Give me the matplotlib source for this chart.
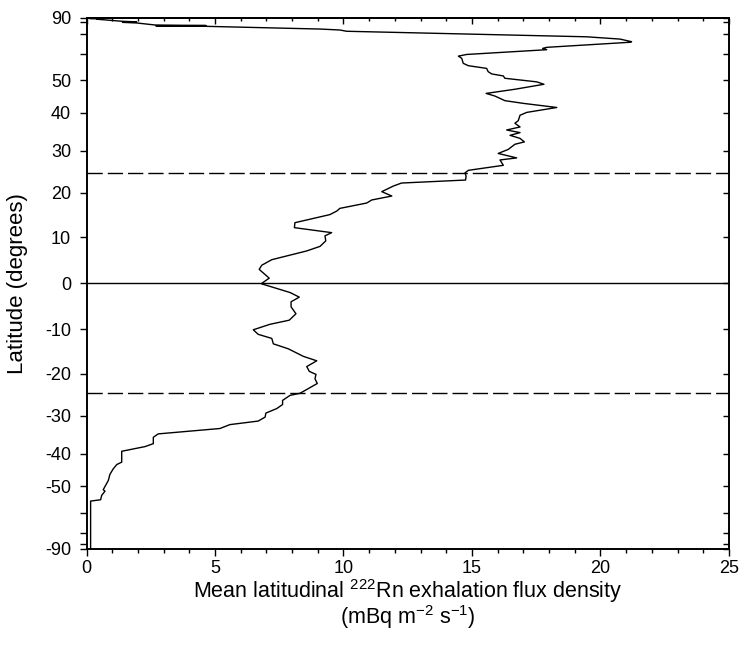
import numpy as np
import matplotlib
matplotlib.use("Agg")
import matplotlib.pyplot as plt

plt.rcParams['font.family'] = ['Liberation Sans', 'DejaVu Sans']
plt.rcParams['mathtext.default'] = 'regular'

# Mean latitudinal Rn-222 exhalation flux (mBq m-2 s-1), north to south
flux = [0.10, 0.40, 0.12, 0.45, 0.40, 1.37, 1.95, 1.40, 1.95, 2.67,
        4.65, 2.70, 4.65, 9.09, 9.86, 10.12, 19.46, 20.76, 21.21, 21.15,
        17.91, 17.75, 17.91, 14.79, 14.47, 14.60, 14.66, 14.86, 15.57, 15.63,
        15.77, 16.22, 16.28, 17.52, 17.80, 16.67, 15.55, 15.89, 16.28, 17.00,
        18.30, 17.13, 16.87, 16.80, 16.67, 16.87, 16.35, 16.87, 16.48, 16.87,
        17.04, 16.67, 16.41, 16.02, 16.74, 16.09, 16.22, 14.86, 14.73, 14.77,
        14.75, 12.26, 11.94, 11.49, 11.88, 11.10, 10.90, 9.86, 9.74, 9.47,
        8.11, 8.09, 9.54, 9.28, 9.31, 9.09, 8.57, 7.21, 6.82, 6.72,
        7.11, 6.80, 7.27, 7.92, 8.28, 7.96, 7.96, 8.15, 7.89, 7.14,
        6.49, 6.68, 7.21, 7.27, 7.85, 8.44, 8.96, 8.57, 8.67, 8.93,
        8.89, 8.98, 8.57, 8.31, 7.92, 7.63, 7.63, 7.40, 6.98, 6.95,
        6.68, 5.58, 5.19, 2.79, 2.60, 2.60, 2.28, 1.37, 1.37, 1.18,
        1.04, 0.91, 0.85, 0.72, 0.65, 0.72, 0.59, 0.55, 0.16, 0.16]

lat = [89.5, 87.0, 86.5, 85.5, 84.5, 81.0, 80.2, 79.6, 78.9, 76.8,
       76.3, 76.0, 75.6, 73.4, 72.7, 71.8, 68.3, 67.0, 65.6, 65.3,
       62.8, 62.3, 61.7, 59.6, 58.9, 58.0, 56.0, 55.1, 54.1, 52.9,
       52.1, 51.4, 50.6, 49.4, 48.6, 47.0, 45.7, 44.9, 43.5, 42.7,
       41.5, 40.1, 39.3, 37.8, 37.1, 36.1, 35.3, 34.6, 33.9, 33.1,
       32.2, 31.6, 30.3, 29.3, 28.2, 27.7, 26.4, 25.2, 24.6, 23.8,
       22.9, 22.2, 21.5, 20.2, 19.2, 18.3, 17.6, 16.4, 15.8, 15.0,
       13.2, 12.1, 11.0, 10.3, 9.2, 8.0, 7.0, 5.1, 3.9, 3.0,
       1.1, -0.1, -0.9, -2.0, -3.0, -4.0, -5.1, -6.6, -8.0, -8.9,
       -10.1, -11.1, -12.0, -13.2, -14.3, -16.0, -17.0, -18.3, -19.4, -20.1,
       -21.1, -22.2, -23.6, -24.5, -25.0, -26.2, -27.2, -28.2, -29.3, -30.3,
       -31.3, -32.2, -33.2, -34.6, -35.5, -37.2, -38.0, -39.3, -42.4, -43.1,
       -44.4, -46.1, -48.0, -50.0, -51.1, -51.6, -53.1, -54.7, -55.2, -90.0]

tropics = [24.5, -24.5]

lat_ticks = [-90, -80, -70, -60, -50, -40, -30, -20, -10, 0,
             10, 20, 30, 40, 50, 60, 70, 80, 90]
lat_labels = ['-90', '', '', '', '-50', '-40', '-30', '-20', '-10', '0',
              '10', '20', '30', '40', '50', '', '', '', '90']
flux_ticks = [0, 5, 10, 15, 20, 25]


# area-weighted latitude axis (sine of latitude)
def fwd(y):
    return np.sin(np.deg2rad(y))


def inv(s):
    return np.rad2deg(np.arcsin(np.clip(s, -1, 1)))


fig = plt.figure(figsize=(7.4, 6.52), dpi=100)
ax = fig.add_axes([0.1169, 0.1587, 0.8682, 0.8137])

ax.set_yscale('function', functions=(fwd, inv))
ax.plot(flux, lat, color='black', lw=1.0)
ax.axhline(0, color='black', lw=1.0)
for t in tropics:
    ax.axhline(t, color='black', lw=1.0, dashes=(11, 3.6))

ax.set_xlim(0, 25)
ax.set_ylim(-90, 90)
ax.set_xticks(flux_ticks)
ax.set_xticks(np.arange(0, 26, 1), minor=True)
ax.set_yticks(lat_ticks)
ax.set_yticklabels(lat_labels)
ax.tick_params(axis='both', which='major', length=5, width=1, labelsize=13)
ax.tick_params(axis='x', which='minor', length=3, width=1)
ax.tick_params(axis='y', pad=6)

# inward ticks on the top and right edges
top = ax.secondary_xaxis('top')
top.set_xticks(flux_ticks)
top.set_xticks(np.arange(0, 26, 1), minor=True)
top.tick_params(which='major', direction='in', length=4.5, width=1, labeltop=False)
top.tick_params(which='minor', direction='in', length=2.5, width=1)

right = ax.twinx()
right.set_yscale('function', functions=(fwd, inv))
right.set_ylim(-90, 90)
right.set_yticks(lat_ticks)
right.tick_params(direction='in', length=4.5, width=1, labelright=False)

for a in (ax, right):
    for s in a.spines.values():
        s.set_linewidth(1.2)
for s in top.spines.values():
    s.set_linewidth(1.2)

ax.set_xlabel('Mean latitudinal $^{222}$Rn exhalation flux density\n'
              '(mBq m$^{-2}$ s$^{-1}$)', fontsize=15.5, linespacing=0.95)
ax.xaxis.set_label_coords(0.5, -0.053)
ax.set_ylabel('Latitude (degrees)', fontsize=16)
ax.yaxis.set_label_coords(-0.091, 0.5)

fig.savefig('out.png', dpi=100)
